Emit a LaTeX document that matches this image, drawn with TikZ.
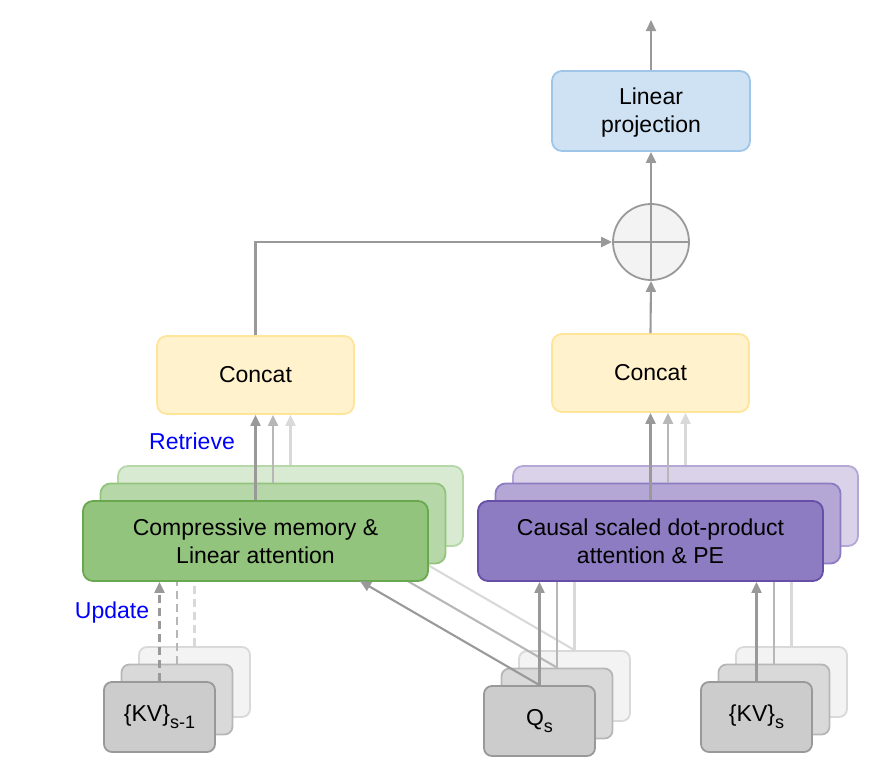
\documentclass[tikz,border=0pt]{standalone}
\usepackage{fontspec}
\setmainfont{Liberation Sans}
\usetikzlibrary{arrows.meta}
\definecolor{lnA}{HTML}{999999}
\definecolor{lnB}{HTML}{B7B7B7}
\definecolor{lnC}{HTML}{D9D9D9}
\definecolor{blueF}{HTML}{CFE2F3}\definecolor{blueD}{HTML}{9FC5E8}
\definecolor{yelF}{HTML}{FFF2CC}\definecolor{yelD}{HTML}{FFE599}
\definecolor{grA}{HTML}{93C47D}\definecolor{grAd}{HTML}{6AA84F}
\definecolor{grB}{HTML}{B6D7A8}
\definecolor{grC}{HTML}{D9EAD3}
\definecolor{puA}{HTML}{8E7CC3}\definecolor{puAd}{HTML}{674EA7}
\definecolor{puB}{HTML}{B4A7D6}
\definecolor{puC}{HTML}{D9D2E9}
\definecolor{gyA}{HTML}{CCCCCC}
\definecolor{gyB}{HTML}{D9D9D9}
\definecolor{gyC}{HTML}{F3F3F3}
\definecolor{lblue}{HTML}{0000FF}
\newcommand\fs{\fontsize{23}{28}\selectfont}
\newcommand\sbs[1]{\raisebox{-7pt}{\fontsize{18}{18}\selectfont #1}}
\tikzset{
  box/.style={draw, rounded corners=10pt, line width=1.8pt, align=center, font=\fs, inner sep=0pt, text=black},
  bigbox/.style={box, minimum width=345pt, minimum height=80pt},
  catbox/.style={box, minimum width=197pt, minimum height=78pt, fill=yelF, draw=yelD},
  inbox/.style={box, rounded corners=8pt, minimum width=111pt, minimum height=70pt},
  conn/.style={line width=2.1pt, -{Triangle[length=11pt,width=10pt]}},
  dsh/.style={dash pattern=on 8pt off 5pt},
  lbl/.style={font=\fs, text=lblue, inner sep=0pt}
}
\begin{document}
\begin{tikzpicture}[x=1pt,y=-1pt]
\useasboundingbox (0,0) rectangle (879,774);
% top
\node[box, minimum width=198pt, minimum height=80pt, fill=blueF, draw=blueD] (lp) at (651,111) {\rule{0pt}{20pt}Linear\\projection};
\node[circle, draw=lnA, fill=gyC, line width=1.8pt, minimum size=76pt, inner sep=0pt] (sum) at (651,242) {};
\draw[lnA, line width=1.8pt] (sum.north) -- (sum.south) (sum.west) -- (sum.east);
\coordinate (out) at (651,20);
\node[catbox] (cL) at (255.5,375) {Concat};
\node[catbox] (cR) at (650.5,373) {Concat};
\draw[conn, lnA] (lp.north) -- (out);
\draw[conn, lnA] (sum.north) -- (lp.south);
\draw[conn, lnA] (cR.north) -- (sum.south);
\draw[conn, lnA] (cL.north) |- (sum.west);
\node[lbl] (ret) at (192,441) {Retrieve};
\node[lbl] (upd) at (112,613) {Update};
% back layer
\node[bigbox, fill=grC, draw=grB] (g3) at (290.5,506) {};
\node[bigbox, fill=puC, draw=puB] (p3) at (685.5,506) {};
\node[inbox, fill=gyC, draw=gyB] (k3) at (194.5,682) {};
\node[inbox, fill=gyC, draw=gyB] (q3) at (574.5,686) {};
\node[inbox, fill=gyC, draw=gyB] (v3) at (791.5,682) {};
\coordinate (gt3) at (395,546);
\draw[conn, lnC] (g3.north) -- (g3.north |- cL.south);
\draw[conn, lnC] (p3.north) -- (p3.north |- cR.south);
\draw[conn, lnC, dsh] (k3.north) -- (k3.north |- g3.south);
\draw[conn, lnC] (q3.north) -- (q3.north |- p3.south);
\draw[conn, lnC] (v3.north) -- (v3.north |- p3.south);
\draw[conn, lnC] (q3.north) -- (gt3);
% middle layer
\node[bigbox, fill=grB, draw=grA] (g2) at (273,523.5) {};
\node[bigbox, fill=puB, draw=puA] (p2) at (668,523.5) {};
\node[inbox, fill=gyB, draw=lnB] (k2) at (177,699.5) {};
\node[inbox, fill=gyB, draw=lnB] (q2) at (557,703.5) {};
\node[inbox, fill=gyB, draw=lnB] (v2) at (774,699.5) {};
\coordinate (gt2) at (377.5,563.5);
\draw[conn, lnB] (g2.north) -- (g2.north |- cL.south);
\draw[conn, lnB] (p2.north) -- (p2.north |- cR.south);
\draw[conn, lnB, dsh] (k2.north) -- (k2.north |- g2.south);
\draw[conn, lnB] (q2.north) -- (q2.north |- p2.south);
\draw[conn, lnB] (v2.north) -- (v2.north |- p2.south);
\draw[conn, lnB] (q2.north) -- (gt2);
% front layer
\node[bigbox, fill=grA, draw=grAd] (g1) at (255.5,541) {Compressive memory \&\\Linear attention};
\node[bigbox, fill=puA, draw=puAd] (p1) at (650.5,541) {Causal scaled dot-product\\attention \& PE};
\node[inbox, fill=gyA, draw=lnA] (k1) at (159.5,717) {\{KV\}\sbs{s-1}};
\node[inbox, fill=gyA, draw=lnA] (q1) at (539.5,721) {Q\sbs{s}};
\node[inbox, fill=gyA, draw=lnA] (v1) at (756.5,717) {\{KV\}\sbs{s}};
\coordinate (gt1) at (360,581);
\draw[conn, lnA] (g1.north) -- (g1.north |- cL.south);
\draw[conn, lnA] (p1.north) -- (p1.north |- cR.south);
\draw[conn, lnA, dsh] (k1.north) -- (k1.north |- g1.south);
\draw[conn, lnA] (q1.north) -- (q1.north |- p1.south);
\draw[conn, lnA] (v1.north) -- (v1.north |- p1.south);
\draw[conn, lnA] (q1.north) -- (gt1);
\end{tikzpicture}
\end{document}
